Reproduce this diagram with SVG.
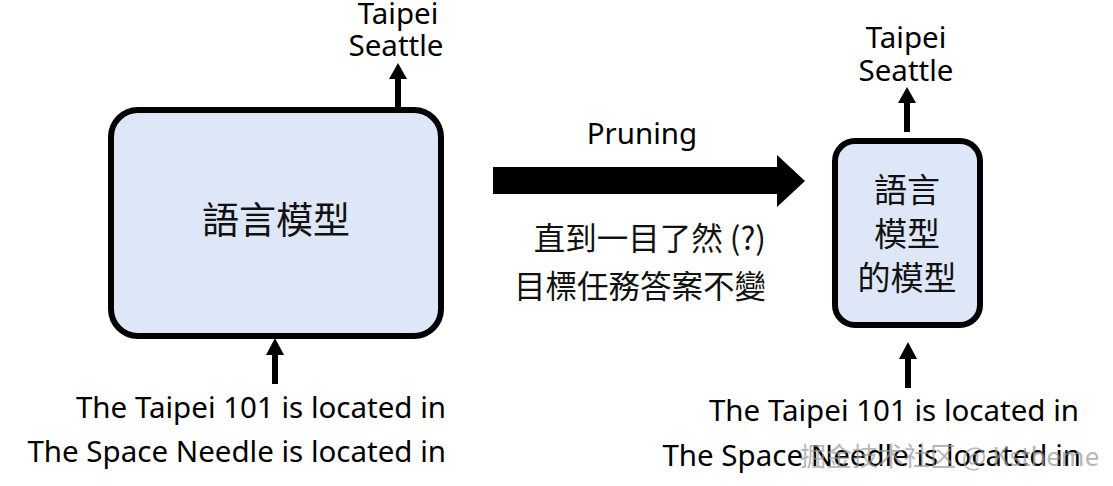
<svg xmlns="http://www.w3.org/2000/svg" width="1113" height="486" viewBox="0 0 1113 486">
<style>
.box{fill:#dee7f7;stroke:#000;stroke-width:6}
.en{font-family:"Noto Sans","Liberation Sans",sans-serif;font-size:29.5px;fill:#000}
.zh{font-family:"Noto Sans CJK TC","Noto Sans CJK SC",sans-serif;fill:#111}
.wm{font-family:"Noto Sans CJK SC","Noto Sans",sans-serif;font-size:26px;fill:#999;opacity:0.7}
</style>
<rect width="1113" height="486" fill="#fff"/>
<g id="connectors" fill="#000">
  <rect x="395" y="77" width="6" height="31"/>
  <polygon points="389,79 407,79 398,63"/>
  <rect x="272" y="352" width="6" height="32"/>
  <polygon points="266,355 284,355 275,338"/>
  <rect x="904" y="100" width="6" height="32"/>
  <polygon points="898,103 916,103 907,87"/>
  <rect x="905" y="356" width="6" height="32"/>
  <polygon points="899,359 917,359 908,342"/>
  <polygon points="493,167 777,167 777,155 805,181 777,207 777,194 493,194"/>
</g>
<g id="node-lm">
  <rect class="box" x="111" y="110" width="330" height="226" rx="27"/>
  <text class="zh" x="276" y="234" font-size="37" text-anchor="middle">語言模型</text>
</g>
<g id="node-small">
  <rect class="box" x="835" y="141" width="145" height="184" rx="20"/>
  <text class="zh" x="907" y="202" font-size="33" text-anchor="middle">語言</text>
  <text class="zh" x="907" y="246" font-size="33" text-anchor="middle">模型</text>
  <text class="zh" x="907" y="290" font-size="33" text-anchor="middle">的模型</text>
</g>
<g id="labels">
  <text class="en" x="398" y="24" text-anchor="middle">Taipei</text>
  <text class="en" x="396" y="56" text-anchor="middle">Seattle</text>
  <text class="en" x="906" y="48" text-anchor="middle">Taipei</text>
  <text class="en" x="906" y="81" text-anchor="middle">Seattle</text>
  <text class="en" x="446" y="418" text-anchor="end">The Taipei 101 is located in</text>
  <text class="en" x="446" y="462" text-anchor="end">The Space Needle is located in</text>
  <text class="en" x="1079" y="421" text-anchor="end">The Taipei 101 is located in</text>
  <text class="en" x="1081" y="466" text-anchor="end">The Space Needle is located in</text>
  <text class="en" x="642" y="144" text-anchor="middle" font-size="32">Pruning</text>
  <text class="zh" x="766" y="250" font-size="31.5" text-anchor="end">直到一目了然 (?)</text>
  <text class="zh" x="766" y="298" font-size="31.5" text-anchor="end">目標任務答案不變</text>
  <text class="wm" x="800" y="466">掘金技术社区 @ Kstheme</text>
</g>
</svg>
